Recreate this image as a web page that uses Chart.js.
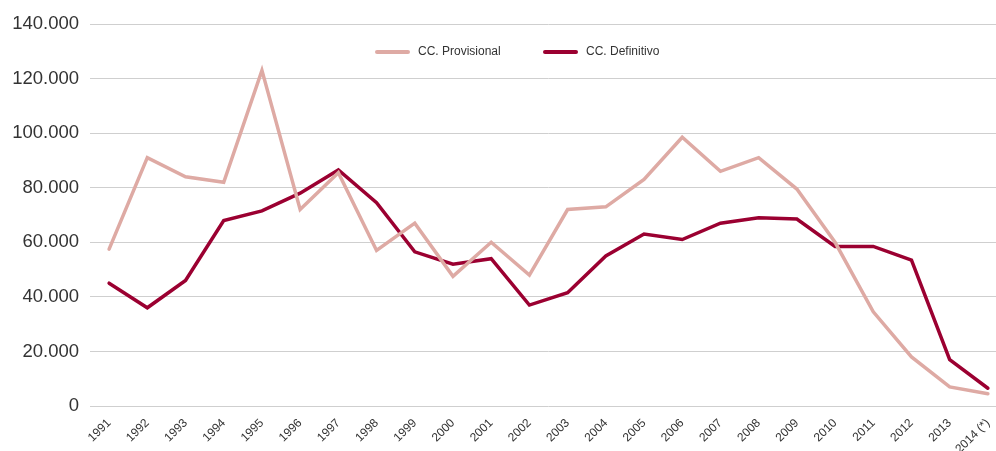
<!DOCTYPE html>
<html lang="es">
<head>
<meta charset="utf-8">
<title>CC. Provisional / CC. Definitivo 1991-2014</title>
<script src="https://cdn.jsdelivr.net/npm/chart.js@4/dist/chart.umd.min.js"></script>
<style>
  html, body { margin: 0; padding: 0; background: #fff; overflow: hidden; }
  #wrap { position: relative; width: 1007px; height: 451px; }
</style>
</head>
<body>
<div id="wrap"><canvas id="chart"></canvas></div>
<script>
// Years on the horizontal axis
const years = ['1991','1992','1993','1994','1995','1996','1997','1998','1999','2000',
  '2001','2002','2003','2004','2005','2006','2007','2008','2009','2010',
  '2011','2012','2013','2014 (*)'];

// Provisional figures per year
const provisional = [57500, 91000, 84000, 82000, 123000, 72000, 85500, 57000, 67000, 47500,
  60000, 48000, 72000, 73000, 83000, 98500, 86000, 91000, 79500, 60000,
  34500, 18000, 7000, 4500];

// Definitive figures per year
const definitivo = [45000, 36000, 46000, 68000, 71500, 78000, 86500, 74500, 56500, 52000,
  54000, 37000, 41500, 55000, 63000, 61000, 67000, 69000, 68500, 58500,
  58500, 53500, 17000, 6500];

// Vertical axis ticks
const yTicks = [0, 20000, 40000, 60000, 80000, 100000, 120000, 140000];

const seriesNames = ['CC. Provisional', 'CC. Definitivo'];
const seriesColors = ['#DEAAA4', '#9B0031'];

// thousands separated with a dot
const fmt = v => String(v).replace(/\B(?=(\d{3})+(?!\d))/g, '.');

// Legend drawn over the top of the plot, centred between the first gridlines
const inlineLegend = {
  id: 'inlineLegend',
  afterDraw(chart) {
    const ctx = chart.ctx;
    const y = 52;
    const starts = [376, 544];
    ctx.save();
    ctx.font = '12px "Liberation Sans", Arial, sans-serif';
    ctx.textBaseline = 'middle';
    chart.data.datasets.forEach((ds, i) => {
      const x = starts[i];
      ctx.strokeStyle = ds.borderColor;
      ctx.lineWidth = 4;
      ctx.lineCap = 'round';
      ctx.beginPath();
      ctx.moveTo(x + 1, y);
      ctx.lineTo(x + 32, y);
      ctx.stroke();
      ctx.fillStyle = '#333';
      ctx.textAlign = 'left';
      ctx.fillText(ds.label, x + 42, y);
    });
    ctx.restore();
  }
};

new Chart(document.getElementById('chart'), {
  type: 'line',
  data: {
    labels: years,
    datasets: [
      { label: seriesNames[0], data: provisional, borderColor: seriesColors[0], backgroundColor: seriesColors[0] },
      { label: seriesNames[1], data: definitivo, borderColor: seriesColors[1], backgroundColor: seriesColors[1] }
    ]
  },
  options: {
    responsive: true,
    maintainAspectRatio: false,
    animation: false,
    layout: { padding: { top: 24, left: 0, right: 0, bottom: 0 } },
    elements: {
      line: { tension: 0, borderWidth: 3.5, borderCapStyle: 'round', borderJoinStyle: 'miter' },
      point: { radius: 0, hoverRadius: 0 }
    },
    plugins: {
      legend: { display: false },
      tooltip: { enabled: false }
    },
    scales: {
      x: {
        offset: true,
        grid: { display: false },
        border: { display: false },
        ticks: {
          autoSkip: false,
          maxRotation: 45,
          minRotation: 45,
          padding: 2,
          color: '#333',
          font: { family: '"Liberation Sans", Arial, sans-serif', size: 12 }
        },
        afterFit(scale) { scale.height = 45; }
      },
      y: {
        min: 0,
        max: 140000,
        afterBuildTicks(scale) { scale.ticks = yTicks.map(v => ({ value: v })); },
        grid: { color: '#CFCFCF', lineWidth: 1, drawTicks: false },
        border: { display: false },
        ticks: {
          padding: 11,
          color: '#333',
          font: { family: '"Liberation Sans", Arial, sans-serif', size: 18.5 },
          callback: v => fmt(v)
        },
        afterFit(scale) { scale.width = 90; }
      }
    }
  },
  plugins: [inlineLegend]
});
</script>
</body>
</html>
